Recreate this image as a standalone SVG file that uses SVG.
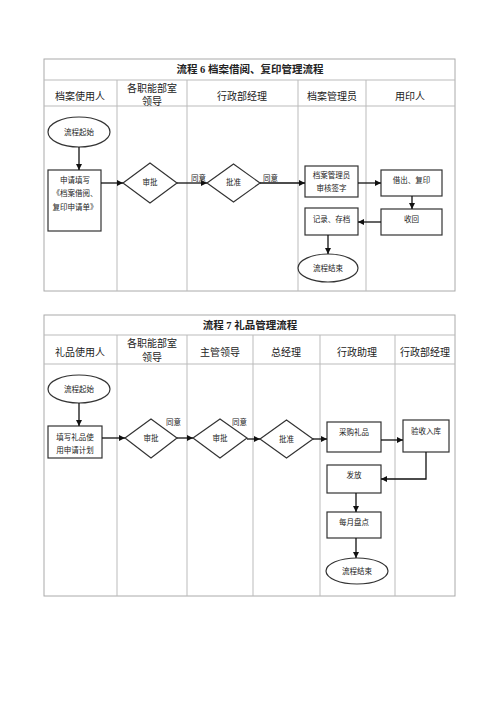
<svg xmlns="http://www.w3.org/2000/svg" width="500" height="707" viewBox="0 0 500 707">
<defs>
<marker id="ah" viewBox="0 0 10 10" refX="10" refY="5" markerWidth="6" markerHeight="6" orient="auto" markerUnits="userSpaceOnUse">
<path d="M0,0 L10,5 L0,10 z" fill="#111"/>
</marker>
<style>
.grid{fill:none;stroke:#aaa;stroke-width:1}
.ln{stroke:#bbb;stroke-width:1}
.shape{fill:#fff;stroke:#333;stroke-width:1.2}
.conn{fill:none;stroke:#111;stroke-width:1.3;marker-end:url(#ah)}
.t{font-family:"Liberation Serif","Noto Sans CJK SC",serif;fill:#222;text-anchor:middle}
.title{font-size:10.5px;font-weight:bold}
.hd{font-size:10px}
.bx{font-size:7.5px}
.lb{font-size:7.5px;text-anchor:start}
</style>
</defs>
<rect width="500" height="707" fill="#fff"/>

<!-- Table 1 -->
<g id="table1">
<rect class="grid" x="44" y="59" width="411" height="232"/>
<line class="ln" x1="44" y1="80" x2="455" y2="80"/>
<line class="ln" x1="44" y1="106" x2="455" y2="106"/>
<line class="ln" x1="117" y1="80" x2="117" y2="291"/>
<line class="ln" x1="187" y1="80" x2="187" y2="291"/>
<line class="ln" x1="298" y1="80" x2="298" y2="291"/>
<line class="ln" x1="366" y1="80" x2="366" y2="291"/>
<text class="t title" x="250" y="73">流程 6 档案借阅、复印管理流程</text>
<text class="t hd" x="80" y="100">档案使用人</text>
<text class="t hd" x="152" y="92">各职能部室</text>
<text class="t hd" x="152" y="105">领导</text>
<text class="t hd" x="242" y="100">行政部经理</text>
<text class="t hd" x="332" y="100">档案管理员</text>
<text class="t hd" x="410" y="100">用印人</text>
</g>

<g id="t1-start"><ellipse class="shape" cx="79" cy="132" rx="31" ry="15"/><text class="t bx" x="79" y="135">流程起始</text></g>
<g id="t1-apply"><rect class="shape" x="48" y="170" width="53" height="61"/><text class="t bx" x="75" y="183">申请填写</text><text class="t bx" x="75" y="196">《档案借阅、</text><text class="t bx" x="75" y="210">复印申请单》</text></g>
<g id="t1-review"><polygon class="shape" points="123,183 150,163 177,183 150,203"/><text class="t bx" x="150" y="185">审批</text></g>
<g id="t1-approve"><polygon class="shape" points="207,183 233.5,164 260,183 233.5,202"/><text class="t bx" x="233.5" y="185">批准</text></g>
<g id="t1-sign"><rect class="shape" x="305" y="166" width="53" height="31"/><text class="t bx" x="331.5" y="178">档案管理员</text><text class="t bx" x="331.5" y="191">审核签字</text></g>
<g id="t1-lend"><rect class="shape" x="381" y="170" width="61" height="26"/><text class="t bx" x="411.5" y="183">借出、复印</text></g>
<g id="t1-return"><rect class="shape" x="381" y="209" width="61" height="26"/><text class="t bx" x="411.5" y="222">收回</text></g>
<g id="t1-record"><rect class="shape" x="305" y="208" width="53" height="27"/><text class="t bx" x="331.5" y="222">记录、存档</text></g>
<g id="t1-end"><ellipse class="shape" cx="328" cy="268" rx="30" ry="14"/><text class="t bx" x="328" y="271">流程结束</text></g>

<!-- Table 2 -->
<g id="table2">
<rect class="grid" x="44" y="315" width="411" height="281"/>
<line class="ln" x1="44" y1="335" x2="455" y2="335"/>
<line class="ln" x1="44" y1="364" x2="455" y2="364"/>
<line class="ln" x1="117" y1="335" x2="117" y2="596"/>
<line class="ln" x1="187" y1="335" x2="187" y2="596"/>
<line class="ln" x1="253" y1="335" x2="253" y2="596"/>
<line class="ln" x1="320" y1="335" x2="320" y2="596"/>
<line class="ln" x1="395" y1="335" x2="395" y2="596"/>
<text class="t title" x="250" y="329">流程 7 礼品管理流程</text>
<text class="t hd" x="80" y="356">礼品使用人</text>
<text class="t hd" x="152" y="347">各职能部室</text>
<text class="t hd" x="152" y="361">领导</text>
<text class="t hd" x="220" y="356">主管领导</text>
<text class="t hd" x="286" y="356">总经理</text>
<text class="t hd" x="357" y="356">行政助理</text>
<text class="t hd" x="425" y="356">行政部经理</text>
</g>

<g id="t2-start"><ellipse class="shape" cx="79" cy="389" rx="31" ry="14"/><text class="t bx" x="79" y="392">流程起始</text></g>
<g id="t2-fill"><rect class="shape" x="48" y="426" width="54" height="32"/><text class="t bx" x="75" y="440">填写礼品使</text><text class="t bx" x="75" y="453">用申请计划</text></g>
<g id="t2-review1"><polygon class="shape" points="125,438 151,419 177,438 151,458"/><text class="t bx" x="151" y="441">审批</text></g>
<g id="t2-review2"><polygon class="shape" points="193,438 220,419 247,438 220,458"/><text class="t bx" x="220" y="441">审批</text></g>
<g id="t2-approve"><polygon class="shape" points="260,439 286.5,420 313,439 286.5,458"/><text class="t bx" x="286.5" y="442">批准</text></g>
<g id="t2-buy"><rect class="shape" x="327" y="422" width="54" height="30"/><text class="t bx" x="354" y="435">采购礼品</text></g>
<g id="t2-check"><rect class="shape" x="403" y="420" width="46" height="32"/><text class="t bx" x="426" y="434">验收入库</text></g>
<g id="t2-issue"><rect class="shape" x="327" y="465" width="54" height="28"/><text class="t bx" x="354" y="478">发放</text></g>
<g id="t2-count"><rect class="shape" x="327" y="512" width="54" height="26"/><text class="t bx" x="354" y="525">每月盘点</text></g>
<g id="t2-end"><ellipse class="shape" cx="357" cy="571" rx="31" ry="13"/><text class="t bx" x="357" y="574">流程结束</text></g>

<g id="connectors">
<line class="conn" x1="79" y1="147" x2="79" y2="170"/>
<line class="conn" x1="101" y1="183" x2="123" y2="183"/>
<line class="conn" x1="177" y1="183" x2="207" y2="183"/>
<line class="conn" x1="260" y1="183" x2="305" y2="183"/>
<line class="conn" x1="358" y1="183" x2="381" y2="183"/>
<line class="conn" x1="412" y1="196" x2="412" y2="209"/>
<line class="conn" x1="381" y1="222" x2="358" y2="222"/>
<line class="conn" x1="328" y1="235" x2="328" y2="254"/>
<text class="t lb" x="191" y="181">同意</text>
<text class="t lb" x="263" y="181">同意</text>

<line class="conn" x1="79" y1="403" x2="79" y2="426"/>
<line class="conn" x1="102" y1="438" x2="125" y2="438"/>
<line class="conn" x1="177" y1="438" x2="193" y2="438"/>
<line class="conn" x1="247" y1="439" x2="260" y2="439"/>
<line class="conn" x1="313" y1="439" x2="327" y2="439"/>
<line class="conn" x1="381" y1="440" x2="403" y2="440"/>
<polyline class="conn" points="426,452 426,479 381,479"/>
<line class="conn" x1="356" y1="493" x2="356" y2="512"/>
<line class="conn" x1="356" y1="538" x2="356" y2="558"/>
<text class="t lb" x="166" y="425">同意</text>
<text class="t lb" x="232" y="425">同意</text>
</g>
</svg>
